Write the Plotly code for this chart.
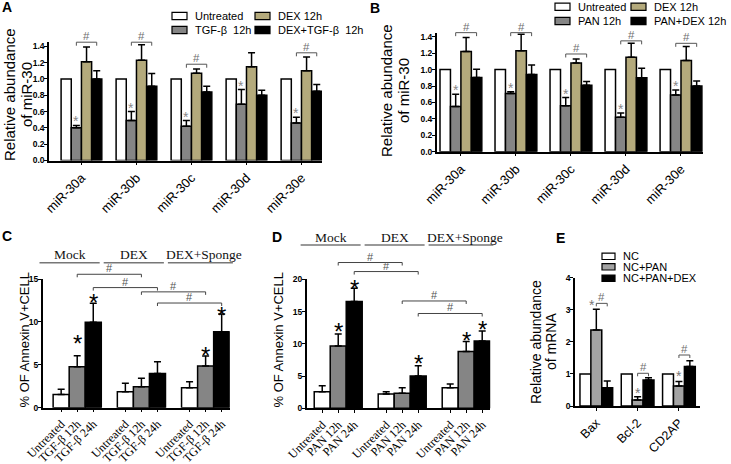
import plotly.graph_objects as go

W, H = 731, 464
SANS = "Liberation Sans, Arial, sans-serif"
SERIF = "Liberation Serif, Times New Roman, serif"

# ---------------- data ----------------
mir_labels = ["miR-30a", "miR-30b", "miR-30c", "miR-30d", "miR-30e"]

A_untreated = [1.0, 1.0, 1.0, 1.0, 1.0]
A_tgf = [0.40, 0.49, 0.42, 0.69, 0.46]
A_tgf_err = [0.03, 0.11, 0.07, 0.18, 0.07]
A_dex = [1.21, 1.23, 1.07, 1.15, 1.10]
A_dex_err = [0.18, 0.19, 0.05, 0.17, 0.17]
A_combo = [1.00, 0.91, 0.84, 0.80, 0.85]
A_combo_err = [0.10, 0.155, 0.07, 0.06, 0.08]
A_hash_level = [1.45, 1.45, 1.18, None, 1.32]

B_untreated = [1.0, 1.0, 1.0, 1.0, 1.0]
B_pan = [0.55, 0.71, 0.56, 0.42, 0.69]
B_pan_err = [0.15, 0.02, 0.10, 0.05, 0.06]
B_dex = [1.22, 1.23, 1.08, 1.15, 1.11]
B_dex_err = [0.17, 0.20, 0.05, 0.17, 0.17]
B_combo = [0.905, 0.94, 0.81, 0.90, 0.80]
B_combo_err = [0.10, 0.115, 0.045, 0.115, 0.06]
B_hash_level = [1.45, 1.45, 1.19, 1.35, 1.32]

C_groups = ["Mock", "DEX", "DEX+Sponge"]
C_ticks = ["Untreated", "TGF-β 12h", "TGF-β 24h"]
C_untreated = [1.55, 1.87, 2.33]
C_untreated_err = [0.59, 0.97, 0.70]
C_12h = [4.78, 2.45, 4.86]
C_12h_err = [1.28, 0.97, 1.16]
C_24h = [9.95, 4.00, 8.86]
C_24h_err = [2.21, 1.36, 2.06]
C_stars = [(0, 1, 8.1), (0, 2, 12.9), (2, 1, 6.7), (2, 2, 11.4)]
C_brackets = [((0, 1), (1, 1), 15.55), ((0, 2), (1, 2), 14.0),
              ((1, 1), (2, 1), 13.5), ((1, 2), (2, 2), 12.2)]

D_groups = ["Mock", "DEX", "DEX+Sponge"]
D_ticks = ["Untreated", "PAN 12h", "PAN 24h"]
D_untreated = [2.58, 2.22, 3.20]
D_untreated_err = [0.93, 0.36, 0.57]
D_12h = [9.66, 2.33, 8.79]
D_12h_err = [1.86, 0.87, 1.55]
D_24h = [16.54, 5.01, 10.44]
D_24h_err = [2.06, 1.60, 1.55]
D_stars = [(0, 1, 12.76), (0, 2, 19.38), (1, 2, 7.75), (2, 1, 11.37), (2, 2, 13.07)]
D_brackets = [((0, 1), (1, 1), 22.6), ((0, 2), (1, 2), 21.2),
              ((1, 1), (2, 1), 16.64), ((1, 2), (2, 2), 14.7)]

E_genes = ["Bax", "Bcl-2", "CD2AP"]
E_nc = [1.0, 1.0, 1.0]
E_pan = [2.37, 0.19, 0.62]
E_pan_err = [0.65, 0.10, 0.14]
E_pandex = [0.57, 0.81, 1.23]
E_pandex_err = [0.21, 0.07, 0.18]
E_star_level = [3.25, 0.50, 1.03]
E_hash_level = [3.20, 1.02, 1.59]

# ---------------- layout geometry (pixels) ----------------
PAN = {
    'A': dict(x='x', y='y', px=(49, 322), py=(160.5, 42.2), xr=(-0.59, 4.373), yr=(0, 1.45)),
    'B': dict(x='x2', y='y2', px=(436.7, 703), py=(151.7, 32.65), xr=(-0.44, 4.4), yr=(0, 1.45)),
    'C': dict(x='x3', y='y3', px=(42.7, 229.7), py=(407.7, 279), xr=(-1.15, 10.5), yr=(0, 15)),
    'D': dict(x='x4', y='y4', px=(306.7, 490.2), py=(408.3, 279.3), xr=(-0.97, 10.5), yr=(0, 20)),
    'E': dict(x='x5', y='y5', px=(575, 700), py=(406, 277.7), xr=(-0.516, 2.51), yr=(0, 4)),
}

WHITE, GRAY, TAN, BLACK = "#ffffff", "#858585", "#b4aa7c", "#000000"
LGRAY = "#a3a3a3"
SIGC = "#707070"


def xf(p, v):
    d = PAN[p]
    return (v - d['xr'][0]) / (d['xr'][1] - d['xr'][0])


def yf(p, v):
    d = PAN[p]
    return (v - d['yr'][0]) / (d['yr'][1] - d['yr'][0])


def pxu_y(p):
    d = PAN[p]
    return (d['py'][0] - d['py'][1]) / (d['yr'][1] - d['yr'][0])


fig = go.Figure()
annotations = []
shapes = []


def bar(p, x, y, err, color, width, offset):
    d = PAN[p]
    eb = dict(visible=False)
    if err is not None:
        eb = dict(type='data', symmetric=False, array=err, arrayminus=[0] * len(err),
                  color='black', thickness=1.5, width=3.5)
    fig.add_trace(go.Bar(x=x, y=y, width=width, offset=offset, xaxis=d['x'], yaxis=d['y'],
                         marker=dict(color=color, line=dict(color='black', width=1.5)),
                         error_y=eb, showlegend=False, hoverinfo='skip'))


def text(p, xv, yv, s, size, color='black', family=SANS, xshift=0, yshift=0, **kw):
    d = PAN[p]
    annotations.append(dict(xref=d['x'] + ' domain', yref=d['y'] + ' domain',
                            x=xf(p, xv), y=yf(p, yv), text=s, showarrow=False,
                            font=dict(size=size, color=color, family=family, **kw),
                            xanchor='center', yanchor='middle', xshift=xshift, yshift=yshift))


def line(p, x0, y0, x1, y1, color, width):
    d = PAN[p]
    shapes.append(dict(type='line', xref=d['x'] + ' domain', yref=d['y'] + ' domain',
                       x0=xf(p, x0), y0=yf(p, y0), x1=xf(p, x1), y1=yf(p, y1),
                       line=dict(color=color, width=width)))


def bracket(p, x0, x1, yv, leg_px, color, width):
    yl = yv - leg_px / pxu_y(p)
    line(p, x0, yl, x0, yv, color, width)
    line(p, x0, yv, x1, yv, color, width)
    line(p, x1, yv, x1, yl, color, width)


def ptext(px, py, s, size, color='black', family=SANS, angle=0, xanchor='center', **kw):
    annotations.append(dict(xref='paper', yref='paper', x=px / W, y=1 - py / H, text=s,
                            showarrow=False, textangle=angle,
                            font=dict(size=size, color=color, family=family, **kw),
                            xanchor=xanchor, yanchor='middle'))


def prect(x0, y0, x1, y1, color):
    shapes.append(dict(type='rect', xref='paper', yref='paper', x0=x0 / W, x1=x1 / W,
                       y0=1 - y1 / H, y1=1 - y0 / H, fillcolor=color,
                       line=dict(color='black', width=1.2)))


# ---------------- panels A and B ----------------
def grouped4(p, series, bw, hash_level, star_off_px=7):
    n = len(series[0][0])
    xs = list(range(n))
    for k, (vals, err, col) in enumerate(series):
        bar(p, xs, vals, err, col, bw, -2 * bw + k * bw)
    gray_vals, gray_err = series[1][0], series[1][1]
    for i in range(n):
        gx = i - 2 * bw + 1.5 * bw
        top = gray_vals[i] + gray_err[i]
        text(p, gx, top + star_off_px / pxu_y(p), "*", 14, color="#888888", yshift=-3)
        if hash_level[i] is not None:
            bx = i + 1.5 * bw
            bracket(p, gx, bx, hash_level[i], 3.5, "#555555", 1)
            text(p, (gx + bx) / 2, hash_level[i] + 6 / pxu_y(p), "#", 11.5, color=SIGC)


grouped4('A', [(A_untreated, None, WHITE), (A_tgf, A_tgf_err, GRAY),
               (A_dex, A_dex_err, TAN), (A_combo, A_combo_err, BLACK)], 0.185, A_hash_level)
grouped4('B', [(B_untreated, None, WHITE), (B_pan, B_pan_err, GRAY),
               (B_dex, B_dex_err, TAN), (B_combo, B_combo_err, BLACK)], 0.19, B_hash_level)


# ---------------- panels C and D ----------------
def triple(p, groups, series, stars, brackets, lab_under, lab_text):
    pos = lambda g, k: g * 4 + k
    for k, (vals, err, col) in enumerate(series):
        xs = [pos(g, k) for g in range(len(vals))]
        bar(p, xs, vals, err, col, 1.0, -0.5)
    for g, k, lvl in stars:
        text(p, pos(g, k), lvl, "*", 24, color="black", yshift=-5.5)
    for (g0, k0), (g1, k1), lvl in brackets:
        x0, x1 = pos(g0, k0), pos(g1, k1)
        bracket(p, x0, x1, lvl, 3, "#444444", 1)
        text(p, (x0 + x1) / 2, lvl + 6 / pxu_y(p), "#", 11, color="#555555")
    for g, name in enumerate(groups):
        gc = pos(g, 1)
        u0, u1 = gc - 2.35, gc + (1.4 if g < 2 else 1.7)
        line(p, u0, lab_under, u1, lab_under, "#777777", 1.5)
        text(p, gc - (0.45 if g < 2 else 0.1), lab_text, name, 13.5, color="#111111",
             family=SERIF)


triple('C', C_groups, [(C_untreated, C_untreated_err, WHITE), (C_12h, C_12h_err, GRAY),
                       (C_24h, C_24h_err, BLACK)], C_stars, C_brackets, 16.9, 17.9)
triple('D', D_groups, [(D_untreated, D_untreated_err, WHITE), (D_12h, D_12h_err, GRAY),
                       (D_24h, D_24h_err, BLACK)], D_stars, D_brackets, 25.3, 26.5)

# ---------------- panel E ----------------
bwE = 0.264
xsE = list(range(len(E_genes)))
for k, (vals, err, col) in enumerate([(E_nc, None, WHITE), (E_pan, E_pan_err, LGRAY),
                                      (E_pandex, E_pandex_err, BLACK)]):
    bar('E', xsE, vals, err, col, bwE, -1.5 * bwE + k * bwE)
for i in xsE:
    gx, bx = i, i + bwE
    text('E', gx, E_star_level[i], "*", 14, color="#777777", yshift=-3,
         xshift=(-4 if i == 0 else 0))
    bracket('E', gx, bx, E_hash_level[i], 3, "#555555", 1)
    text('E', (gx + bx) / 2, E_hash_level[i] + 6.5 / pxu_y('E'), "#", 11.5, color=SIGC)

# ---------------- axes ----------------
layout_axes = {}
xticks = {
    'A': (list(range(5)), mir_labels, SANS, 13),
    'B': (list(range(5)), mir_labels, SANS, 13),
    'C': ([g * 4 + k for g in range(3) for k in range(3)], C_ticks * 3, SERIF, 12),
    'D': ([g * 4 + k for g in range(3) for k in range(3)], D_ticks * 3, SERIF, 12),
    'E': (list(range(3)), E_genes, SANS, 12.5),
}
yticks = {
    'A': ([0, 0.2, 0.4, 0.6, 0.8, 1.0, 1.2, 1.4], '.1f'),
    'B': ([0, 0.2, 0.4, 0.6, 0.8, 1.0, 1.2, 1.4], '.1f'),
    'C': ([0, 5, 10, 15], 'd'),
    'D': ([0, 5, 10, 15, 20], 'd'),
    'E': ([0, 1, 2, 3, 4], 'd'),
}
for p, d in PAN.items():
    xk = 'xaxis' + d['x'][1:]
    yk = 'yaxis' + d['y'][1:]
    tv, tt, fam, fs = xticks[p]
    layout_axes[xk] = dict(domain=[d['px'][0] / W, d['px'][1] / W], range=list(d['xr']),
                           anchor=d['y'], showline=True, linecolor='black', linewidth=1.5,
                           ticks='outside', ticklen=3, tickwidth=1.2, tickcolor='black',
                           tickvals=tv, ticktext=tt, tickangle=-45, automargin=False,
                           tickfont=dict(family=fam, size=fs, color='black'),
                           showgrid=False, zeroline=False, fixedrange=True)
    yv, fmt = yticks[p]
    layout_axes[yk] = dict(domain=[1 - d['py'][0] / H, 1 - d['py'][1] / H], range=list(d['yr']),
                           anchor=d['x'], showline=True, linecolor='black', linewidth=1.5,
                           ticks='outside', ticklen=3, tickwidth=1.2, tickcolor='black',
                           tickvals=yv, tickformat=fmt, automargin=False, ticklabelstandoff=-2,
                           tickfont=dict(family=SANS, size=8.5, color='black', weight='bold'),
                           showgrid=False, zeroline=False, fixedrange=True)

# ---------------- titles, letters, legends ----------------
for s, px, py in [("A", 7, 7), ("B", 375, 8), ("C", 7, 236), ("D", 277, 237), ("E", 560, 238)]:
    ptext(px, py, s, 14, weight='bold')

ptext(9, 95, "Relative abundance", 15, angle=-90)
ptext(26, 95, "of miR-30", 15, angle=-90)
ptext(387, 91, "Relative abundance", 15, angle=-90)
ptext(404, 91, "of miR-30", 15, angle=-90)
ptext(23.5, 340, "% OF Annexin V+CELL", 13, angle=-90)
ptext(277.5, 340, "% OF Annexin V+CELL", 13, angle=-90)
ptext(536, 342, "Relative abundance", 14, angle=-90)
ptext(551, 342, "of mRNA", 14, angle=-90)

legends = [
    # (x0, y_center, color, label)
    (172, 16, WHITE, "Untreated"), (255, 16, TAN, "DEX 12h"),
    (172, 30, GRAY, "TGF-β\u00a0\u00a012h"), (255, 30, BLACK, "DEX+TGF-β\u00a0\u00a012h"),
    (555, 6.7, WHITE, "Untreated"), (631, 6.7, TAN, "DEX 12h"),
    (555, 21, GRAY, "PAN 12h"), (631, 21, BLACK, "PAN+DEX 12h"),
    (602, 256.3, WHITE, "NC"), (602, 266.8, LGRAY, "NC+PAN"), (602, 278.3, BLACK, "NC+PAN+DEX"),
]
for x0, yc, col, lab in legends:
    h = 3.6 if x0 != 602 else 3.2
    wdt = 15 if x0 != 602 else 13
    prect(x0, yc - h, x0 + wdt, yc + h, col)
    ptext(x0 + wdt + 6, yc, lab, 11, xanchor='left')

fig.update_layout(template='none', width=W, height=H,
                  margin=dict(l=0, r=0, t=0, b=0, autoexpand=False), autosize=False,
                  paper_bgcolor='white', plot_bgcolor='rgba(0,0,0,0)', barmode='overlay',
                  showlegend=False, annotations=annotations, shapes=shapes, **layout_axes)

fig.write_html("out.html", config={'displayModeBar': False},
               post_script="document.body.style.margin='0';document.body.style.padding='0';")
